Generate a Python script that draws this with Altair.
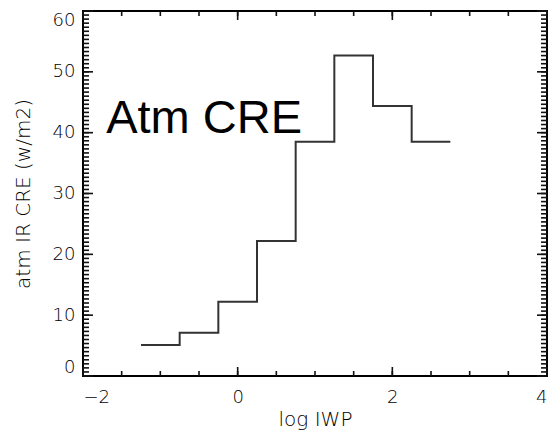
import altair as alt
import pandas as pd

# ---- data ----
bin_edges = [-1.25, -0.75, -0.25, 0.25, 0.75, 1.25, 1.75, 2.25, 2.75]
cre_values = [5.1, 7.1, 12.2, 22.2, 38.5, 52.7, 44.4, 38.5]
x_major = [-2, 0, 2, 4]
x_minor = [-2 + 0.5 * i for i in range(13)]
y_major = [0, 10, 20, 30, 40, 50, 60]
y_minor = [i * 10 / 15 for i in range(91)]
x_title = "log IWP"
y_title = "atm IR CRE (w/m2)"
note_text = ["Atm CRE"]
note_x = [-1.7]
note_y = [40]

step_df = pd.DataFrame({"x": bin_edges, "y": cre_values + [cre_values[-1]]})
note_df = pd.DataFrame({"x": note_x, "y": note_y, "t": note_text})

W, H = 464, 365
X0, X1, Y0, Y1 = -2, 4, 0, 60
FONT = "DejaVu Sans"
xs = alt.Scale(domain=[X0, X1], nice=False, zero=False)
ys = alt.Scale(domain=[Y0, Y1], nice=False, zero=False)

# inward tick marks (IDL style): each tick is a 2-point line, lengths in data units
px_x = (X1 - X0) / W
px_y = (Y1 - Y0) / H
rows = []
k = 0


def add_seg(xa, ya, xb, yb):
    global k
    rows.append({"x": xa, "y": ya, "id": k, "o": 0})
    rows.append({"x": xb, "y": yb, "id": k, "o": 1})
    k += 1


for vals, L in ((x_major, 9), (x_minor, 5)):
    for v in vals:
        add_seg(v, Y0, v, Y0 + L * px_y)
        add_seg(v, Y1 - L * px_y, v, Y1)
for vals, L in ((y_major, 10), (y_minor, 6)):
    for v in vals:
        add_seg(X0, v, X0 + L * px_x, v)
        add_seg(X1 - L * px_x, v, X1, v)
tick_df = pd.DataFrame(rows)

hist = alt.Chart(step_df).mark_line(
    interpolate="step-after", color="#333333", strokeWidth=2
).encode(
    x=alt.X("x:Q", scale=xs, axis=alt.Axis(
        orient="bottom", values=x_major, format="d", ticks=False, tickSize=0,
        domain=False, grid=False,
        labelPadding=12, labelFont=FONT, labelFontSize=18, labelColor="black",
        labelFontWeight=200, labelExpr="replace(datum.label, '-', '\u2212')",
        title=x_title, titleFont=FONT, titleFontSize=20, titleFontWeight=200,
        titleColor="black", titlePadding=3)),
    y=alt.Y("y:Q", scale=ys, axis=alt.Axis(
        orient="left", values=y_major, format="d", ticks=False, tickSize=0,
        domain=False, grid=False,
        labelPadding=8, labelFont=FONT, labelFontSize=18, labelColor="black",
        labelFontWeight=200, labelFlush=True,
        title=y_title, titleFont=FONT, titleFontSize=20, titleFontWeight=200,
        titleColor="black", titlePadding=19)),
)

ticks = alt.Chart(tick_df).mark_line(color="#111111", strokeWidth=1.6).encode(
    x=alt.X("x:Q", scale=xs),
    y=alt.Y("y:Q", scale=ys),
    detail="id:N",
    order="o:Q",
)

note = alt.Chart(note_df).mark_text(
    align="left", baseline="alphabetic", font="Liberation Sans", fontSize=47, color="black"
).encode(
    x=alt.X("x:Q", scale=xs),
    y=alt.Y("y:Q", scale=ys),
    text="t:N",
)

chart = alt.layer(hist, note, ticks).properties(
    width=W, height=H,
    autosize=alt.AutoSizeParams(type="none"),
    padding={"left": 83, "top": 11, "right": 1, "bottom": 61},
    background="white",
).configure_view(stroke="black", strokeWidth=2)

chart.save("out.html", embed_options={"renderer": "svg", "actions": False})
